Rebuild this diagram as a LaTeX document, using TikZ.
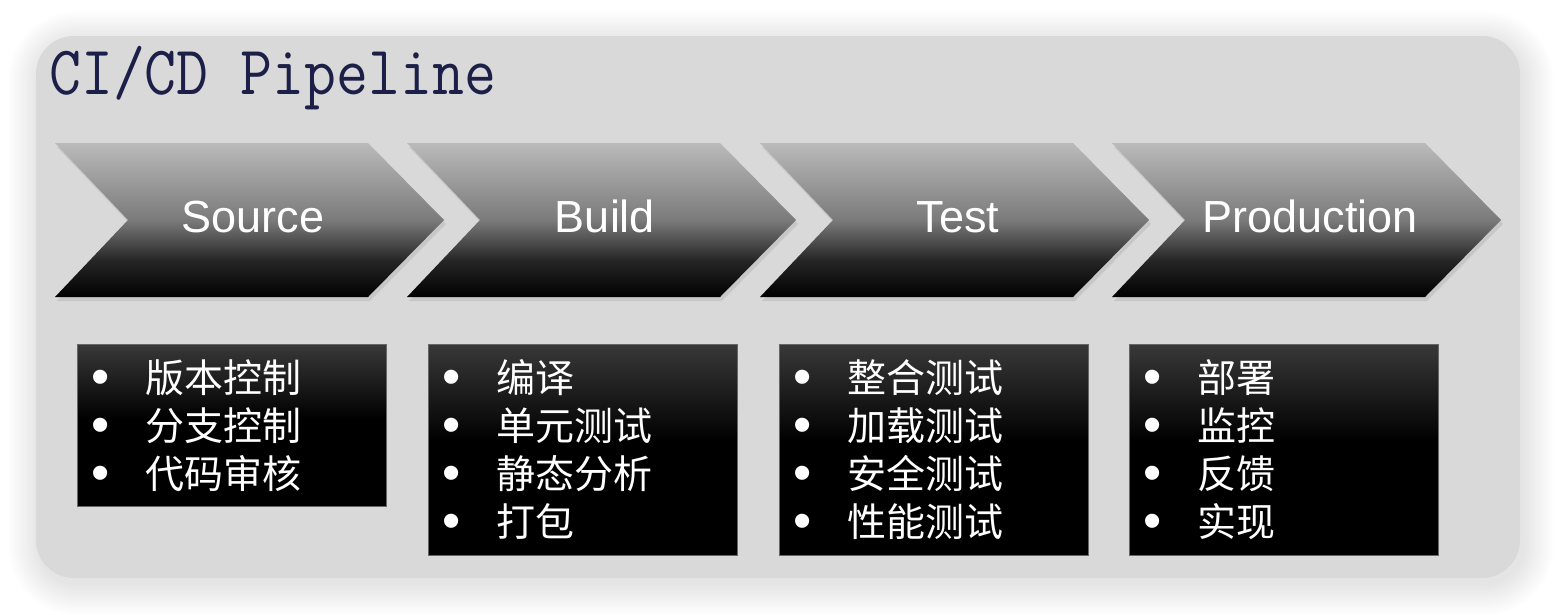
\documentclass[tikz,border=0pt]{standalone}
\usepackage{fontspec}
\setmainfont{Liberation Sans}
\newfontfamily\cjk{Noto Sans CJK SC}
\definecolor{bgfill}{gray}{0.85}
\definecolor{titleblue}{RGB}{28,32,72}
\pgfdeclareverticalshading{chevsh}{100bp}{color(0bp)=(black); color(25bp)=(black); color(37bp)=(black!85); color(50bp)=(black!52); color(75bp)=(black!27); color(100bp)=(black!27)}
\pgfdeclareverticalshading{boxsh}{100bp}{color(0bp)=(black); color(25bp)=(black); color(52bp)=(black); color(75bp)=(black!78); color(100bp)=(black!78)}
\newcommand\pitem[1]{\hspace*{23pt}\makebox[0pt]{\raisebox{-2pt}{\rmfamily\fontsize{52}{52}\selectfont •}}\hspace*{45pt}#1}
\tikzset{
  chevtext/.style={anchor=base, text=white, font=\fontsize{45}{45}\selectfont},
  itembox/.style={anchor=north west, shading=boxsh, draw=black!60, line width=0.8pt,
    minimum width=309pt, inner sep=0pt, text width=309pt, align=left, text=white,
    font=\cjk\fontsize{39}{48}\selectfont},
  chevshape/.style={shading=chevsh},
}
\begin{document}
\begin{tikzpicture}[x=1pt,y=-1pt]
\useasboundingbox (0,0) rectangle (1556,614);
\fill[white] (0,0) rectangle (1556,614);
% soft shadow of the panel
\foreach \i in {1,...,26}{
  \pgfmathsetmacro\r{38+1.2*\i}
  \fill[black, opacity=0.0038, rounded corners=\r pt] (36-1.2*\i+3,36-1.2*\i+6) rectangle (1520+1.2*\i+3,578+1.2*\i+6);
}
\fill[bgfill, rounded corners=38pt] (36,36) rectangle (1520,578);
% title
\node[anchor=base west, text=titleblue, font=\ttfamily\fontsize{62}{62}\selectfont, inner sep=0pt] (title) at (49,94) {\scalebox{1}[1.12]{CI/CD Pipeline}};
% chevrons
\foreach \n/\x/\t in {src/55/Source, bld/407/Build, tst/760/Test, prd/1112/Production}{
  \fill[black, opacity=0.08] (\x+2,147) -- (\x+315,147) -- (\x+391,224) -- (\x+315,301) -- (\x+2,301) -- (\x+75,224) -- cycle;
  \shade[chevshape] (\x,143) -- (\x+313,143) -- (\x+389,220) -- (\x+313,297) -- (\x,297) -- (\x+73,220) -- cycle;
  \node[chevtext] (\n) at (\x+198,232) {\t};
}
% item boxes
\node[itembox, minimum height=162pt] (srcbox) at (77,344) {\pitem{版本控制}\\\pitem{分支控制}\\\pitem{代码审核}};
\node[itembox, minimum height=211pt] (bldbox) at (428,344) {\pitem{编译}\\\pitem{单元测试}\\\pitem{静态分析}\\\pitem{打包}};
\node[itembox, minimum height=211pt] (tstbox) at (779,344) {\pitem{整合测试}\\\pitem{加载测试}\\\pitem{安全测试}\\\pitem{性能测试}};
\node[itembox, minimum height=211pt] (prdbox) at (1129,344) {\pitem{部署}\\\pitem{监控}\\\pitem{反馈}\\\pitem{实现}};
\end{tikzpicture}
\end{document}
